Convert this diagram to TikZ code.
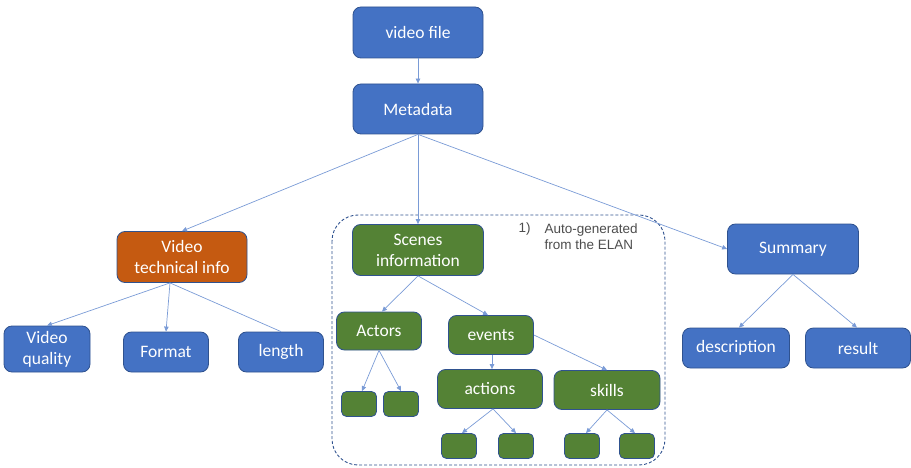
\documentclass[tikz,border=0pt]{standalone}
\usepackage{fontspec}
\setmainfont{Carlito}
\newfontfamily\notefont{Liberation Sans}
\usetikzlibrary{arrows.meta,calc}
\definecolor{boxblue}{HTML}{4472C4}
\definecolor{boxgreen}{HTML}{548235}
\definecolor{boxorange}{HTML}{C55A11}
\definecolor{edgeblue}{HTML}{2F528F}
\definecolor{linkblue}{HTML}{7A9BD6}
\definecolor{notegray}{HTML}{4D4D4D}
\tikzset{
  box/.style={draw=edgeblue, line width=0.8pt, rounded corners=8pt,
    inner sep=0pt, text=white, align=center,
    font=\fontsize{17.5}{21}\selectfont},
  bluebox/.style={box, fill=boxblue},
  greenbox/.style={box, fill=boxgreen},
  orangebox/.style={box, fill=boxorange},
  link/.style={draw=linkblue, line width=0.7pt,
    -{Triangle[length=5pt,width=4.5pt]}},
  plainlink/.style={draw=linkblue, line width=0.7pt},
}
\begin{document}
\begin{tikzpicture}[x=1pt,y=-1pt]
\useasboundingbox (0,0) rectangle (911,468);

% grouping of the scene-related items
\draw[edgeblue, dash pattern=on 3pt off 2pt, line width=0.9pt, rounded corners=26pt]
  (332,215) rectangle (665,465);
\node[notegray, anchor=west, font=\notefont\fontsize{13.5}{16}\selectfont]
  (num) at (515,229) {1)};
\node[notegray, anchor=north west, align=left,
  font=\notefont\fontsize{13.5}{16}\selectfont]
  (note) at (541,220) {Auto-generated\\from the ELAN};

% top level
\node[bluebox, minimum width=130pt, minimum height=51pt] (file) at (418,32.5) {video file};
\node[bluebox, minimum width=130pt, minimum height=50pt] (meta) at (418,109) {Metadata};

% second level
\node[orangebox, minimum width=130pt, minimum height=51pt] (tech) at (182,257) {Video\\technical info};
\node[greenbox, minimum width=131pt, minimum height=51pt] (scene) at (418,250) {Scenes\\information};
\node[bluebox, minimum width=131pt, minimum height=50pt] (summ) at (793,249) {Summary};

% technical info children
\node[bluebox, minimum width=86pt, minimum height=46pt] (qual) at (47,349) {Video\\quality};
\node[bluebox, minimum width=85pt, minimum height=40pt] (fmt) at (166,352) {Format};
\node[bluebox, minimum width=85pt, minimum height=40pt] (len) at (281,352) {length};

% scene children
\node[greenbox, minimum width=85pt, minimum height=38pt] (act) at (379,331) {Actors};
\node[greenbox, minimum width=85pt, minimum height=39pt] (evt) at (491,335) {events};
\node[greenbox, minimum width=105pt, minimum height=39pt] (acts) at (490,389) {actions};
\node[greenbox, minimum width=106pt, minimum height=39pt] (skl) at (607,390) {skills};

% empty leaf boxes
\tikzset{leaf/.style={greenbox, minimum width=35pt, minimum height=25pt, rounded corners=5pt}}
\node[leaf] (a1) at (359,404) {};
\node[leaf] (a2) at (401,404) {};
\node[leaf] (c1) at (459,446) {};
\node[leaf] (c2) at (516,446) {};
\node[leaf] (s1) at (582,446) {};
\node[leaf] (s2) at (637,446) {};

% summary children
\node[bluebox, minimum width=107pt, minimum height=40pt] (desc) at (736,348) {description};
\node[bluebox, minimum width=105pt, minimum height=40pt] (res) at (858,348) {result};

% connectors
\draw[link] (file.south) -- (meta.north);
\draw[link] (meta.south) -- (tech.north);
\draw[link] (meta.south) -- (scene.north);
\draw[link] (meta.south) -- (summ.west);

\coordinate (techfoot) at ($(tech.south)+(-12,0)$);
\draw[link] (techfoot) -- (qual.north);
\draw[link] (techfoot) -- (fmt.north);
\draw[plainlink] (techfoot) -- (len.north);

\draw[link] (scene.south) -- ([xshift=3pt]act.north);
\draw[link] (scene.south) -- ([xshift=-3pt]evt.north);
\draw[link] (act.south) -- ([xshift=3pt]a1.north);
\draw[link] (act.south) -- (a2.north);
\draw[link] ([xshift=1pt]evt.south) -- ([xshift=2pt]acts.north);
\draw[link] (evt.east) -- (skl.north);
\draw[link] ([xshift=3pt]acts.south) -- ([xshift=3pt]c1.north);
\draw[link] ([xshift=3pt]acts.south) -- (c2.north);
\draw[link] (skl.south) -- ([xshift=4pt]s1.north);
\draw[link] (skl.south) -- ([xshift=-2pt]s2.north);

\draw[link] (summ.south) -- ([xshift=3pt]desc.north);
\draw[link] (summ.south) -- ([xshift=-1pt]res.north);
\end{tikzpicture}
\end{document}
